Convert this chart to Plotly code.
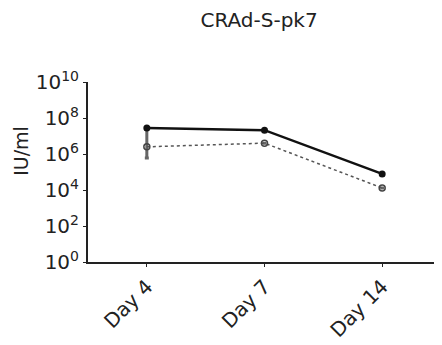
import plotly.graph_objects as go

days = ["Day 4", "Day 7", "Day 14"]
series_a = [2.8e7, 2.1e7, 7.8e4]
series_b = [2.5e6, 4.0e6, 1.3e4]
b_upper = [2.8e7, 4.0e6, 1.3e4]
b_lower = [6.0e5, 4.0e6, 1.3e4]
ytick_vals = [1, 1e2, 1e4, 1e6, 1e8, 1e10]
ytick_text = ["10<sup>0</sup>", "10<sup>2</sup>", "10<sup>4</sup>", "10<sup>6</sup>", "10<sup>8</sup>", "10<sup>10</sup>"]

FONT = "DejaVu Sans, Verdana, sans-serif"

fig = go.Figure()
fig.add_trace(go.Scatter(
    x=days, y=series_b, mode="lines+markers",
    line=dict(color="#555", width=1.5, dash="dot"),
    marker=dict(symbol="circle-open", size=6, color="#444", line=dict(width=1.5)),
    error_y=dict(type="data", symmetric=False,
                 array=[u - v for u, v in zip(b_upper, series_b)],
                 arrayminus=[v - l for v, l in zip(series_b, b_lower)],
                 color="#666", thickness=3, width=2),
    showlegend=False))
fig.add_trace(go.Scatter(
    x=days, y=series_a, mode="lines+markers",
    line=dict(color="#111", width=2.5),
    marker=dict(symbol="circle", size=7, color="#111"),
    showlegend=False))

fig.update_layout(
    width=442, height=345,
    margin=dict(l=80, r=9, t=74, b=91),
    paper_bgcolor="white", plot_bgcolor="white",
    font=dict(family=FONT, color="#222"),
    title=dict(text="CRAd-S-pk7", x=0.568, xanchor="center", y=0.965, yanchor="middle",
               font=dict(size=20, color="#222", family=FONT)),
    annotations=[dict(text="IU/ml", xref="paper", yref="paper", x=-0.19, y=0.617,
                      textangle=-90, showarrow=False, xanchor="center", yanchor="middle",
                      font=dict(size=19, color="#222", family=FONT))],
)
fig.update_xaxes(
    type="category", range=[-0.5, 2.5],
    showline=True, linecolor="#222", linewidth=2,
    ticks="outside", ticklen=3, tickcolor="#222",
    tickangle=-45, tickfont=dict(size=20, color="#222", family=FONT),
    showgrid=False, zeroline=False,
)
fig.update_yaxes(
    type="log", range=[0, 10],
    tickvals=ytick_vals, ticktext=ytick_text,
    showline=True, linecolor="#222", linewidth=2,
    ticks="outside", ticklen=3, tickcolor="#222",
    tickfont=dict(size=20, color="#222", family=FONT),
    showgrid=False, zeroline=False,
)
fig.write_html("out.html")
